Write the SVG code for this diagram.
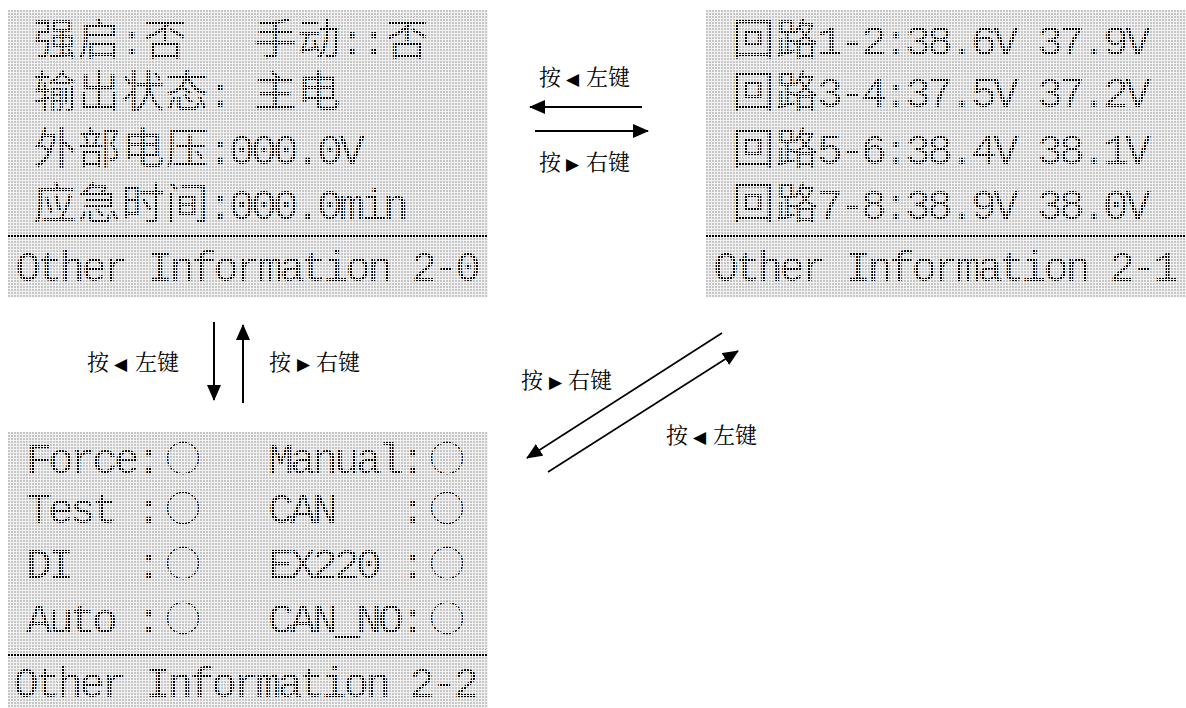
<svg xmlns="http://www.w3.org/2000/svg" width="1186" height="708" viewBox="0 0 1186 708">
<defs>
  <pattern id="lcdbg" width="3" height="3" patternUnits="userSpaceOnUse">
    <rect width="3" height="3" fill="#f2f2f2"/>
    <rect width="2" height="2" fill="#c6c6c6"/>
  </pattern>
  <pattern id="lcdov" width="3" height="3" patternUnits="userSpaceOnUse">
    <rect x="2" width="1" height="3" fill="#f2f2f2"/>
    <rect y="2" width="3" height="1" fill="#f2f2f2"/>
  </pattern>
  <marker id="ah" viewBox="0 0 16 14" refX="15" refY="7" markerWidth="16" markerHeight="14" orient="auto" markerUnits="userSpaceOnUse">
    <path d="M0,0 L16,7 L0,14 z" fill="#000"/>
  </marker>
  <style>
    .bg { fill: url(#lcdbg); shape-rendering: crispEdges; }
    .ov { fill: url(#lcdov); shape-rendering: crispEdges; }
    .sep { fill: #000; shape-rendering: crispEdges; }
    .lcd { font-family: "Liberation Mono", "Noto Sans CJK SC", monospace; font-size: 43px; fill: #000; text-anchor: middle; }
    .lcdb { font-family: "Liberation Mono", "Noto Sans CJK SC", monospace; font-size: 42px; fill: #000; text-anchor: middle; }
    .cjk { font-family: "Noto Sans CJK SC", sans-serif; }
    .circ { font-family: "Noto Sans CJK SC", sans-serif; font-size: 36px; }
    .conn { stroke: #000; stroke-width: 2; fill: none; marker-end: url(#ah); }
    .diag { stroke-width: 1.6; }
    .lbl { font-family: "Noto Serif CJK SC", "Noto Sans CJK SC", sans-serif; font-size: 22px; fill: #000; }
    .tri { font-family: "DejaVu Sans", sans-serif; font-size: 17px; }
  </style>
</defs>
<rect width="1186" height="708" fill="#fff"/>

<g id="panel-1" transform="translate(8,10)">
  <rect class="bg" x="0" y="0" width="480" height="287"/>
  <text class="lcd" x="47 91 124 157" y="45">强启:否</text>
  <text class="lcd" x="267 311 344 366 399" y="45">手动::否</text>
  <text class="lcd" x="47 91 135 179 212 234 267 311" y="97">输出状态: 主电</text>
  <text class="lcd" x="47 91 135 179 212 234 256 278 300 322 344" y="154">外部电压:000.0V</text>
  <text class="lcd" x="47 91 135 179 212 234 256 278 300 322 344 366 388" y="209">应急时间:000.0min</text>
  <rect class="sep" x="0" y="225" width="480" height="2"/>
  <text class="lcdb" x="20 42 64 86 108 130 152 174 196 218 240 262 284 306 328 350 372 394 416 438 460" y="271">Other Information 2-0</text>
  <rect class="ov" x="0" y="0" width="480" height="287"/>
</g>

<g id="panel-2" transform="translate(706,10)">
  <rect class="bg" x="0" y="0" width="480" height="287"/>
  <text class="lcd" x="47 91 124 146 168 190 212 234 256 278 300 322 344 366 388 410 432" y="45">回路1-2:38.6V 37.9V</text>
  <text class="lcd" x="47 91 124 146 168 190 212 234 256 278 300 322 344 366 388 410 432" y="97">回路3-4:37.5V 37.2V</text>
  <text class="lcd" x="47 91 124 146 168 190 212 234 256 278 300 322 344 366 388 410 432" y="154">回路5-6:38.4V 38.1V</text>
  <text class="lcd" x="47 91 124 146 168 190 212 234 256 278 300 322 344 366 388 410 432" y="209">回路7-8:38.9V 38.0V</text>
  <rect class="sep" x="0" y="225" width="480" height="2"/>
  <text class="lcdb" x="20 42 64 86 108 130 152 174 196 218 240 262 284 306 328 350 372 394 416 438 460" y="271">Other Information 2-1</text>
  <rect class="ov" x="0" y="0" width="480" height="287"/>
</g>

<g id="panel-3" transform="translate(8,432)">
  <rect class="bg" x="0" y="0" width="480" height="276"/>
  <text class="lcd" x="31 53 75 97 119 141" y="41">Force:<tspan class="circ" x="175" y="40">○</tspan></text>
  <text class="lcd" x="273 295 317 339 361 383 405" y="41">Manual:<tspan class="circ" x="439" y="40">○</tspan></text>
  <text class="lcd" x="31 53 75 97 119 141" y="91">Test :<tspan class="circ" x="175" y="90">○</tspan></text>
  <text class="lcd" x="273 295 317" y="91">CAN</text>
  <text class="lcd" x="405" y="91">:<tspan class="circ" x="439" y="90">○</tspan></text>
  <text class="lcd" x="31 53" y="146">DI</text>
  <text class="lcd" x="141" y="146">:<tspan class="circ" x="175" y="145">○</tspan></text>
  <text class="lcd" x="273 295 317 339 361 383 405" y="146">EX220 :<tspan class="circ" x="439" y="145">○</tspan></text>
  <text class="lcd" x="31 53 75 97 119 141" y="201">Auto :<tspan class="circ" x="175" y="200">○</tspan></text>
  <text class="lcd" x="273 295 317 339 361 383 405" y="201">CAN_NO:<tspan class="circ" x="439" y="200">○</tspan></text>
  <rect class="sep" x="0" y="222" width="480" height="2"/>
  <text class="lcdb" x="18 40 62 84 106 128 150 172 194 216 238 260 282 304 326 348 370 392 414 436 458" y="265">Other Information 2-2</text>
  <rect class="ov" x="0" y="0" width="480" height="276"/>
</g>

<g id="connectors">
  <line class="conn" x1="642" y1="107" x2="530" y2="107"/>
  <line class="conn" x1="535" y1="131" x2="648" y2="131"/>
  <line class="conn" x1="214" y1="322" x2="214" y2="400"/>
  <line class="conn" x1="243" y1="403" x2="243" y2="325"/>
  <line class="conn diag" x1="722" y1="333" x2="527" y2="458"/>
  <line class="conn diag" x1="548" y1="472" x2="738" y2="351"/>
</g>

<g id="connector-labels">
  <text class="lbl" x="539" y="85">按<tspan class="tri" x="566">◀</tspan><tspan x="586">左键</tspan></text>
  <text class="lbl" x="539" y="170">按<tspan class="tri" x="566">▶</tspan><tspan x="586">右键</tspan></text>
  <text class="lbl" x="87" y="370">按<tspan class="tri" x="114">◀</tspan><tspan x="135">左键</tspan></text>
  <text class="lbl" x="269" y="370">按<tspan class="tri" x="297">▶</tspan><tspan x="316">右键</tspan></text>
  <text class="lbl" x="521" y="388">按<tspan class="tri" x="549">▶</tspan><tspan x="568">右键</tspan></text>
  <text class="lbl" x="666" y="443">按<tspan class="tri" x="693">◀</tspan><tspan x="713">左键</tspan></text>
</g>
</svg>
